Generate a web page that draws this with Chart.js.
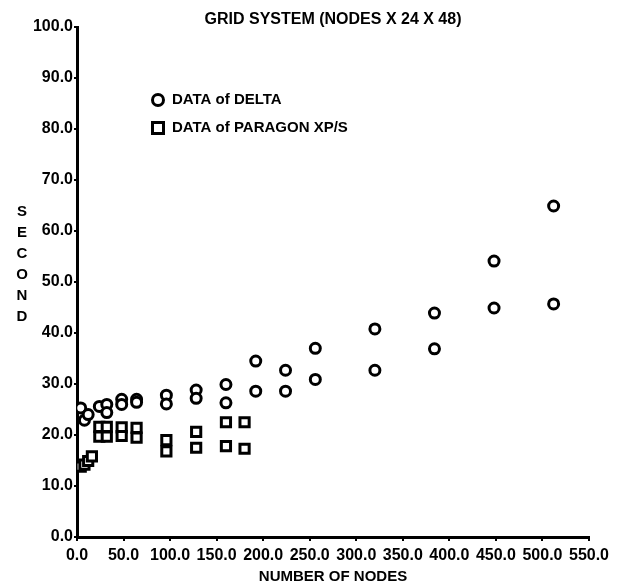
<!DOCTYPE html>
<html>
<head>
<meta charset="utf-8">
<script src="https://cdn.jsdelivr.net/npm/chart.js@4/dist/chart.umd.min.js"></script>
<style>
  html, body { margin: 0; padding: 0; background: #fff; }
  #wrap { width: 626px; height: 588px; position: relative; }
</style>
</head>
<body>
<div id="wrap"><canvas id="c" width="626" height="588"></canvas></div>
<script>
// ---- data ----
const chartTitle = 'GRID SYSTEM (NODES X 24 X 48)';
const xAxisTitle = 'NUMBER OF NODES';
const yAxisTitle = 'SECOND';
const deltaLabel = 'DATA of DELTA';
const paragonLabel = 'DATA of PARAGON XP/S';

const xTickValues = [0, 50, 100, 150, 200, 250, 300, 350, 400, 450, 500, 550];
const xTickLabels = ['0.0', '50.0', '100.0', '150.0', '200.0', '250.0', '300.0', '350.0', '400.0', '450.0', '500.0', '550.0'];
const yTickValues = [0, 10, 20, 30, 40, 50, 60, 70, 80, 90, 100];
const yTickLabels = ['0.0', '10.0', '20.0', '30.0', '40.0', '50.0', '60.0', '70.0', '80.0', '90.0', '100.0'];

const deltaNodes = [4, 8, 12, 24, 32, 32, 48, 48, 64, 64, 96, 96, 128, 128, 160, 160, 192, 192, 224, 224, 256, 256, 320, 320, 384, 384, 448, 448, 512, 512];
const deltaSeconds = [25.3, 22.9, 24.0, 25.6, 26.0, 24.4, 27.0, 26.0, 27.0, 26.4, 27.8, 26.1, 28.8, 27.2, 29.9, 26.3, 34.5, 28.6, 32.7, 28.6, 37.0, 30.9, 40.8, 32.7, 43.9, 36.9, 54.1, 44.9, 64.9, 45.7];

const paragonNodes = [4, 8, 12, 16, 24, 24, 32, 32, 48, 48, 64, 64, 96, 96, 128, 128, 160, 160, 180, 180];
const paragonSeconds = [13.8, 14.2, 14.9, 15.8, 21.6, 19.7, 21.6, 19.7, 21.5, 19.8, 21.4, 19.5, 19.0, 16.8, 20.6, 17.5, 22.5, 17.8, 22.5, 17.3];

// ---- chart ----
const FONT = '"Liberation Sans", Arial, Helvetica, sans-serif';
const toPoints = (xs, ys) => xs.map((x, i) => ({ x: x, y: ys[i] }));

const annotations = {
  id: 'annotations',
  afterDraw(chart) {
    const ctx = chart.ctx;
    const a = chart.chartArea;
    ctx.save();
    ctx.fillStyle = '#000';
    // title
    ctx.font = 'bold 16px ' + FONT;
    ctx.textAlign = 'center';
    ctx.textBaseline = 'middle';
    ctx.fillText(chartTitle, (a.left + a.right) / 2, a.top - 7);
    // vertical stacked y-axis title
    ctx.font = 'bold 15px ' + FONT;
    const letters = yAxisTitle.split('');
    letters.forEach((ch, i) => ctx.fillText(ch, 22, 212 + i * 21));
    // legend
    const lx = a.left + 81;
    Chart.helpers.drawPoint(ctx, { pointStyle: 'circle', radius: 5.5, borderWidth: 3 }, lx, a.top + 73);
    ctx.strokeStyle = '#000'; ctx.lineWidth = 3; ctx.fillStyle = '#fff';
    ctx.beginPath(); ctx.arc(lx, a.top + 73, 5.5, 0, Math.PI * 2); ctx.fill(); ctx.stroke();
    ctx.beginPath(); ctx.rect(lx - 5.5, a.top + 101 - 5.5, 11, 11); ctx.fill(); ctx.stroke();
    ctx.fillStyle = '#000';
    ctx.font = 'bold 15px ' + FONT;
    ctx.textAlign = 'left';
    ctx.fillText(deltaLabel, lx + 14, a.top + 73);
    ctx.fillText(paragonLabel, lx + 14, a.top + 101);
    ctx.restore();
  }
};

new Chart(document.getElementById('c'), {
  type: 'scatter',
  data: {
    datasets: [
      {
        label: deltaLabel,
        data: toPoints(deltaNodes, deltaSeconds),
        pointStyle: 'circle',
        pointRadius: 5,
        pointBorderWidth: 3,
        borderColor: '#000',
        backgroundColor: '#fff'
      },
      {
        label: paragonLabel,
        data: toPoints(paragonNodes, paragonSeconds),
        pointStyle: 'rect',
        pointRadius: 6.5,
        pointBorderWidth: 3,
        borderColor: '#000',
        backgroundColor: '#fff'
      }
    ]
  },
  options: {
    responsive: false,
    animation: false,
    events: [],
    layout: { padding: { top: 27, right: 37, left: 0, bottom: 0 } },
    plugins: {
      legend: { display: false },
      title: { display: false },
      tooltip: { enabled: false }
    },
    scales: {
      x: {
        type: 'linear',
        min: 0,
        max: 550,
        afterBuildTicks(scale) { scale.ticks = xTickValues.map(v => ({ value: v })); },
        afterFit(scale) { scale.height = 51; scale.paddingLeft = 0; scale.paddingRight = 0; },
        ticks: {
          autoSkip: false,
          maxRotation: 0,
          padding: 5,
          color: '#000',
          font: { family: FONT, size: 16, weight: 'bold' },
          callback: (v) => { const i = xTickValues.indexOf(v); return i >= 0 ? xTickLabels[i] : ''; }
        },
        grid: { drawOnChartArea: false, drawTicks: true, tickLength: 4, color: '#000', lineWidth: 2 },
        border: { display: true, color: '#000', width: 3 },
        title: {
          display: true,
          text: xAxisTitle,
          color: '#000',
          font: { family: FONT, size: 15, weight: 'bold' },
          padding: { top: 0, bottom: 2 }
        }
      },
      y: {
        type: 'linear',
        min: 0,
        max: 100,
        afterBuildTicks(scale) { scale.ticks = yTickValues.map(v => ({ value: v })); },
        afterFit(scale) { scale.width = 77; scale.paddingTop = 0; scale.paddingBottom = 0; },
        ticks: {
          autoSkip: false,
          padding: 1,
          color: '#000',
          font: { family: FONT, size: 16, weight: 'bold' },
          callback: (v) => { const i = yTickValues.indexOf(v); return i >= 0 ? yTickLabels[i] : ''; }
        },
        grid: { drawOnChartArea: false, drawTicks: true, tickLength: 3, color: '#000', lineWidth: 2 },
        border: { display: true, color: '#000', width: 3 }
      }
    }
  },
  plugins: [annotations]
});
</script>
</body>
</html>
